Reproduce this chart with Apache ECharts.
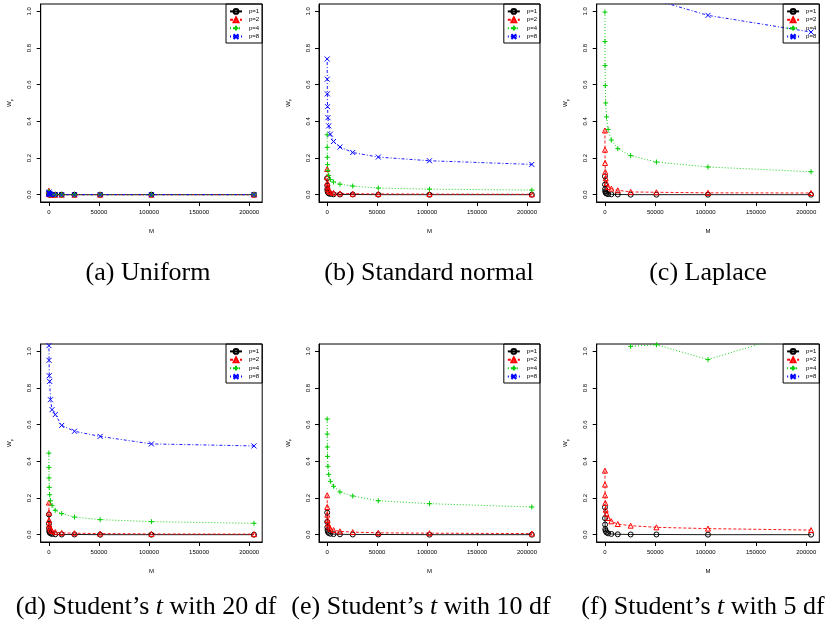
<!DOCTYPE html>
<html>
<head>
<meta charset="utf-8">
<script src="https://cdn.jsdelivr.net/npm/echarts@6/dist/echarts.min.js"></script>
<style>html,body{margin:0;padding:0;background:#fff}#c{width:834px;height:625px}</style>
</head>
<body>
<div id="c"></div>
<script>
// ---------- data ----------
const M = [50, 100, 200, 400, 800, 1600, 3200, 6400, 12800, 25600, 51200, 102400, 204800];
const seriesNames = ['p=1', 'p=2', 'p=4', 'p=8'];
const xTicks = [0, 50000, 100000, 150000, 200000];
const yTicks = [0, 0.2, 0.4, 0.6, 0.8, 1.0];
const captions = [
  '(a) Uniform',
  '(b) Standard normal',
  '(c) Laplace',
  '(d) Student’s {i|t} with 20 df',
  '(e) Student’s {i|t} with 10 df',
  '(f) Student’s {i|t} with 5 df'
];

// (a) Uniform
const unif_p1 = [0.012, 0.006, 0.003, 0.002, 0.001, 0.001, 0, 0, 0, 0, 0, 0, 0];
const unif_p2 = [0.022, 0.012, 0.007, 0.004, 0.002, 0.001, 0.001, 0, 0, 0, 0, 0, 0];
const unif_p4 = [0.018, 0.010, 0.006, 0.003, 0.002, 0.001, 0.001, 0, 0, 0, 0, 0, 0];
const unif_p8 = [0.014, 0.008, 0.005, 0.003, 0.002, 0.001, 0.001, 0, 0, 0, 0, 0, 0];
// (b) Standard normal
const norm_p1 = [0.09, 0.05, 0.03, 0.02, 0.012, 0.007, 0.004, 0.002, 0.001, 0.001, 0, 0, 0];
const norm_p2 = [0.14, 0.095, 0.065, 0.045, 0.03, 0.02, 0.014, 0.01, 0.007, 0.005, 0.004, 0.003, 0.002];
const norm_p4 = [0.327, 0.258, 0.204, 0.164, 0.131, 0.105, 0.082, 0.069, 0.057, 0.047, 0.036, 0.03, 0.025];
const norm_p8 = [0.74, 0.63, 0.55, 0.48, 0.42, 0.375, 0.33, 0.29, 0.26, 0.23, 0.205, 0.185, 0.165];
// (c) Laplace (values above 1.04 lie outside the plot)
const lap_p1 = [0.10, 0.055, 0.03, 0.018, 0.01, 0.006, 0.003, 0.002, 0.001, 0, 0, 0, 0];
const lap_p2 = [0.35, 0.245, 0.173, 0.124, 0.09, 0.064, 0.042, 0.033, 0.024, 0.015, 0.013, 0.01, 0.009];
const lap_p4 = [0.996, 0.835, 0.704, 0.595, 0.5, 0.424, 0.356, 0.298, 0.251, 0.213, 0.178, 0.151, 0.125];
const lap_p8 = [3.6, 3.1, 2.7, 2.35, 2.05, 1.8, 1.6, 1.42, 1.28, 1.16, 1.06, 0.978, 0.887];
// (d) Student's t, 20 df
const t20_p1 = [0.11, 0.06, 0.035, 0.02, 0.012, 0.007, 0.004, 0.002, 0.001, 0.001, 0, 0, 0];
const t20_p2 = [0.175, 0.12, 0.08, 0.055, 0.04, 0.028, 0.02, 0.014, 0.01, 0.008, 0.006, 0.004, 0.003];
const t20_p4 = [0.445, 0.367, 0.309, 0.258, 0.218, 0.185, 0.16, 0.133, 0.115, 0.096, 0.082, 0.071, 0.062];
const t20_p8 = [1.12, 1.031, 0.951, 0.867, 0.836, 0.736, 0.682, 0.655, 0.596, 0.564, 0.536, 0.495, 0.484];
// (e) Student's t, 10 df (p=8 entirely above the plotted range)
const t10_p1 = [0.12, 0.07, 0.04, 0.025, 0.015, 0.009, 0.005, 0.003, 0.002, 0.001, 0.001, 0, 0];
const t10_p2 = [0.215, 0.151, 0.109, 0.08, 0.06, 0.045, 0.033, 0.025, 0.018, 0.014, 0.01, 0.008, 0.006];
const t10_p4 = [0.631, 0.549, 0.478, 0.427, 0.373, 0.329, 0.291, 0.264, 0.233, 0.211, 0.185, 0.169, 0.151];
const t10_p8 = [null, null, null, null, null, null, null, null, null, null, null, null, null];
// (f) Student's t, 5 df
const t5_p1 = [0.149, 0.09, 0.055, 0.03, 0.02, 0.012, 0.007, 0.004, 0.002, 0.001, 0.001, 0, 0];
const t5_p2 = [0.349, 0.273, 0.215, 0.173, 0.136, 0.115, 0.091, 0.073, 0.058, 0.049, 0.04, 0.033, 0.025];
const t5_p4 = [4.0, 3.4, 2.9, 2.5, 2.1, 1.8, 1.6, 1.45, 1.3, 1.027, 1.036, 0.955, 1.125];
const t5_p8 = [null, null, null, null, null, null, null, null, null, null, null, null, null];

const panels = [
  [unif_p1, unif_p2, unif_p4, unif_p8],
  [norm_p1, norm_p2, norm_p4, norm_p8],
  [lap_p1, lap_p2, lap_p4, lap_p8],
  [t20_p1, t20_p2, t20_p4, t20_p8],
  [t10_p1, t10_p2, t10_p4, t10_p8],
  [t5_p1, t5_p2, t5_p4, t5_p8]
];

// ---------- styling ----------
const colors = ['#000000', '#ff0000', '#00cd00', '#0000ff'];
const symbols = ['circle', 'triangle', 'path://M0,5L10,5M5,0L5,10', 'path://M0,0L10,10M10,0L0,10'];
const dashes = ['solid', [3, 2], [1, 2], [1, 2, 3, 2]];
const gridLeft = [40.7, 319, 596.7];
const gridWidth = [221.5, 221, 222.6];
const gridTop = [4, 344];
const gridHeight = 198;
const capX = [143, 424, 703, 141, 416, 698];
const capY = [255, 589];

// axis range as R draws it (4% padding)
const xSpan = M[M.length - 1] - M[0];
const xMin = M[0] - 0.04 * xSpan, xMax = M[M.length - 1] + 0.04 * xSpan;
const yMin = -0.04, yMax = 1.04;

const font = 'Liberation Sans, Arial, sans-serif';
const serif = 'Liberation Serif, DejaVu Serif, serif';
const grids = [], xAxes = [], yAxes = [], series = [], legends = [], titles = [];
for (let i = 0; i < 6; i++) {
  const col = i % 3, row = Math.floor(i / 3);
  grids.push({left: gridLeft[col], top: gridTop[row], width: gridWidth[col], height: gridHeight,
    show: true, borderColor: '#000', borderWidth: 1, backgroundColor: 'transparent', containLabel: false});
  xAxes.push({type: 'value', gridIndex: i, min: xMin, max: xMax,
    name: 'M', nameLocation: 'middle', nameGap: 26,
    nameTextStyle: {fontFamily: font, fontSize: 6, color: '#000'},
    axisLine: {show: true, onZero: false, lineStyle: {color: '#000', width: 1}},
    axisTick: {show: true, length: 4, customValues: xTicks, lineStyle: {color: '#000'}},
    axisLabel: {show: true, customValues: xTicks, margin: 7, fontFamily: font, fontSize: 6, color: '#000',
      formatter: v => String(Math.round(v))},
    splitLine: {show: false}});
  yAxes.push({type: 'value', gridIndex: i, min: yMin, max: yMax,
    name: 'W{s|p}', nameLocation: 'middle', nameGap: 27, nameRotate: 90,
    nameTextStyle: {fontFamily: font, fontSize: 6, color: '#000', rich: {s: {fontSize: 4, verticalAlign: 'bottom', padding: [4, 0, 0, 0], fontFamily: font, color: '#000'}}},
    axisLine: {show: true, onZero: false, lineStyle: {color: '#000', width: 1}},
    axisTick: {show: true, length: 4, customValues: yTicks, lineStyle: {color: '#000'}},
    axisLabel: {show: true, customValues: yTicks, rotate: 90, margin: 8, fontFamily: font, fontSize: 6, color: '#000',
      formatter: v => v.toFixed(1)},
    splitLine: {show: false}});
  for (let s = 0; s < 4; s++) {
    const vals = panels[i][s];
    series.push({
      type: 'line', name: seriesNames[s], xAxisIndex: i, yAxisIndex: i,
      data: M.map((m, k) => [m, vals[k]]),
      clip: true, connectNulls: false, animation: false,
      symbol: symbols[s], symbolSize: 5, symbolKeepAspect: true, showAllSymbol: true,
      lineStyle: {color: colors[s], width: 0.9, type: dashes[s]},
      itemStyle: {color: 'rgba(0,0,0,0)', borderColor: colors[s], borderWidth: 1},
      emphasis: {disabled: true}
    });
  }
  legends.push({
    data: seriesNames, orient: 'vertical',
    right: 834 - (gridLeft[col] + gridWidth[col]), top: gridTop[row],
    borderColor: '#000', borderWidth: 1, backgroundColor: 'transparent',
    padding: [4, 3, 3, 3], itemGap: 1.6, itemWidth: 12, itemHeight: 6,
    textStyle: {fontFamily: font, fontSize: 6, color: '#000', padding: [0, 0, 0, 2]},
    selectedMode: false
  });
  titles.push({
    text: captions[i], left: capX[i], top: capY[row], textAlign: 'center',
    textStyle: {fontFamily: serif, fontSize: 26, fontWeight: 'normal', color: '#000',
      rich: {i: {fontFamily: serif, fontStyle: 'italic', fontSize: 26, color: '#000'}}}
  });
}

const chart = echarts.init(document.getElementById('c'), null, {renderer: 'canvas'});
chart.setOption({
  backgroundColor: '#fff', animation: false,
  title: titles, grid: grids, xAxis: xAxes, yAxis: yAxes, legend: legends, series: series,
  tooltip: {show: false}
});
</script>
</body>
</html>
